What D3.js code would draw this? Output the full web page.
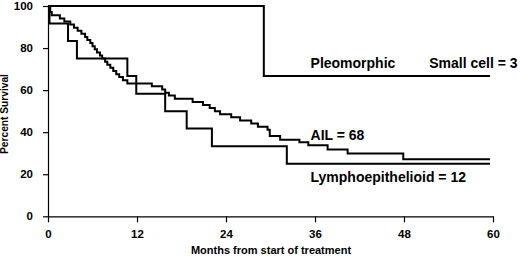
<!DOCTYPE html>
<html>
<head>
<meta charset="utf-8">
<script src="https://cdn.jsdelivr.net/npm/d3@7"></script>
<style>
  html, body { margin: 0; padding: 0; background: #fff; }
  svg { display: block; }
  text { font-family: "Liberation Sans", Arial, sans-serif; font-weight: bold; fill: #000; }
</style>
</head>
<body>
<svg id="chart" width="520" height="257"></svg>
<script>
// ---- data (months, percent survival) ----
const xTicks = [0, 12, 24, 36, 48, 60];
const yTicks = [0, 20, 40, 60, 80, 100];

const pleomorphicTimes = [0, 29.1, 59.6];
const pleomorphicSurv  = [100, 66.7, 66.7];

const lymphoTimes = [0, 0.2, 2.7, 3.9, 10.7, 11.9, 15.8, 18.7, 22.1, 32.2, 59.6];
const lymphoSurv  = [100, 91.7, 83.3, 75.0, 66.7, 58.3, 50.0, 41.7, 33.3, 25.0, 25.0];

const ailTimes = [0, 0.3, 0.5, 1.6, 2.2, 3.0, 3.5, 4.0, 4.5, 5.0, 5.3, 5.7, 6.0, 6.3, 6.6, 7.0, 7.3, 7.7, 8.0, 8.4, 8.8, 9.2, 9.6, 10.1, 10.7,
  14.0, 15.4, 15.8, 16.3, 17.1, 19.5, 20.9, 21.8, 22.5, 23.2, 24.7, 25.9, 27.4, 28.3, 29.6, 29.9, 31.3, 33.9, 35.1, 37.7, 40.4, 47.9, 59.6];
const ailSurv  = [100, 97.1, 95.6, 94.1, 92.6, 91.2, 89.7, 88.2, 86.8, 85.3, 83.8, 82.4, 80.9, 79.4, 77.9, 76.5, 75.0, 73.5, 72.1, 70.6, 69.1, 67.6, 66.2, 64.7, 63.2,
  61.8, 60.3, 58.8, 57.4, 55.9, 54.4, 52.9, 51.5, 50.0, 48.5, 47.1, 45.6, 44.1, 42.6, 41.2, 38.2, 36.4, 35.2, 33.8, 31.8, 29.9, 27.1, 27.1];

const labels = [
  { text: "Pleomorphic", t: 35.4, s: 70.5 },
  { text: "Small cell = 3", t: 51.4, s: 70.5 },
  { text: "AIL = 68", t: 35.4, s: 36.5 },
  { text: "Lymphoepithelioid = 12", t: 35.4, s: 16.2 }
];

// ---- layout ----
const svg = d3.select("#chart");
const x = d3.scaleLinear().domain([0, 60]).range([48, 493]);
const y = d3.scaleLinear().domain([0, 100]).range([216.3, 6]);

const zip = (ts, ss) => ts.map((t, i) => [t, ss[i]]);

const line = d3.line().x(d => x(d[0])).y(d => y(d[1])).curve(d3.curveStepAfter);

// axes
const yAxis = svg.append("g").attr("transform", `translate(${x(0)},0)`)
  .call(d3.axisLeft(y).tickValues(yTicks).tickSize(5).tickSizeOuter(0).tickPadding(10));
const xAxis = svg.append("g").attr("transform", `translate(0,${y(0)})`)
  .call(d3.axisBottom(x).tickValues(xTicks).tickSize(6).tickSizeOuter(0).tickPadding(8));
[yAxis, xAxis].forEach(g => {
  g.selectAll("path, line").attr("stroke", "#000").attr("stroke-width", 1.2);
  g.selectAll("text").style("font-size", "11.5px").style("font-weight", "bold")
    .style("font-family", '"Liberation Sans", Arial, sans-serif').attr("fill", "#000");
});

// curves
[zip(pleomorphicTimes, pleomorphicSurv), zip(lymphoTimes, lymphoSurv), zip(ailTimes, ailSurv)].forEach(d => {
  svg.append("path").datum(d).attr("d", line)
    .attr("fill", "none").attr("stroke", "#000").attr("stroke-width", 2);
});

// annotations
svg.selectAll("text.lab").data(labels).enter().append("text")
  .attr("class", "lab")
  .attr("x", d => x(d.t)).attr("y", d => y(d.s))
  .style("font-size", "14px")
  .text(d => d.text);

// axis titles
svg.append("text").attr("x", 271).attr("y", 254).attr("text-anchor", "middle")
  .style("font-size", "11px").text("Months from start of treatment");
svg.append("text").attr("transform", "translate(8,114) rotate(-90)").attr("text-anchor", "middle")
  .style("font-size", "10.2px").text("Percent Survival");
</script>
</body>
</html>
